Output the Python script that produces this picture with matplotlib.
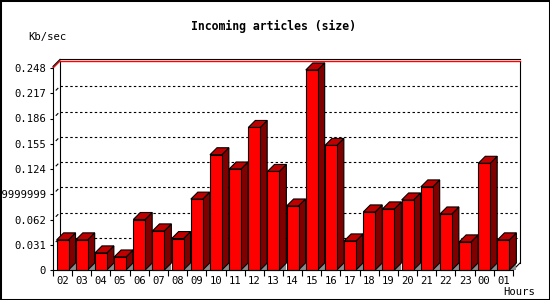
import matplotlib
matplotlib.use('Agg')
import matplotlib.pyplot as plt
import matplotlib.transforms as mtransforms
from matplotlib.patches import Polygon, Rectangle
from matplotlib.lines import Line2D

# ---------------- data ----------------
hours = ["02", "03", "04", "05", "06", "07", "08", "09", "10", "11", "12", "13",
         "14", "15", "16", "17", "18", "19", "20", "21", "22", "23", "00", "01"]
values = [0.037, 0.037, 0.021, 0.016, 0.062, 0.048, 0.0386, 0.087, 0.1415, 0.124,
          0.175, 0.121, 0.0786, 0.2456, 0.153, 0.0357, 0.0713, 0.075, 0.086, 0.102,
          0.0688, 0.0345, 0.131, 0.037]
yticks = [0, 0.031, 0.062, 0.093, 0.124, 0.155, 0.186, 0.217, 0.248]
ytick_labels = ["0", "0.031", "0.062", "0.09299999999999999", "0.124", "0.155",
                "0.186", "0.217", "0.248"]
title = "Incoming articles (size)"
ylabel = "Kb/sec"
xlabel = "Hours"

# ---------------- layout ----------------
W, H = 550, 300
FONT = "DejaVu Sans Mono"
fig = plt.figure(figsize=(W / 100, H / 100), dpi=100)
fig.patch.set_facecolor("white")
ax = fig.add_axes([53 / W, 30 / H, 460 / W, 202 / H])
n = len(hours)
ymax = yticks[-1]
ax.set_xlim(-0.5, n - 0.5)
ax.set_ylim(0, ymax)
ax.set_facecolor("none")

DEPTH = 7  # pixels
ddx = DEPTH / 460 * n
ddy = DEPTH / 202 * ymax
back = mtransforms.offset_copy(ax.transData, x=DEPTH, y=DEPTH, units='dots')
back_top = mtransforms.offset_copy(ax.transData, x=DEPTH, y=DEPTH + 1.6, units='dots')
front_top = mtransforms.offset_copy(ax.transData, x=0, y=1.6, units='dots')

lw = 0.8
# back-wall grid lines
for yv in yticks[1:-1]:
    ax.add_line(Line2D([-0.5, n - 0.5], [yv, yv], transform=back, color="black",
                       lw=lw, linestyle=(0, (2.2, 2.2)), zorder=1, clip_on=False))
    # short diagonal marks near the back wall
    ax.add_line(Line2D([-0.5 + ddx * 0.45, -0.5 + ddx * 0.7],
                       [yv + ddy * 0.45, yv + ddy * 0.7], color="black", lw=lw,
                       zorder=1, clip_on=False))

# back wall frame
ax.add_line(Line2D([-0.5, -0.5], [0, ymax], transform=back, color="black", lw=lw,
                   zorder=1, clip_on=False))
ax.add_line(Line2D([n - 0.5, n - 0.5], [0, ymax], transform=back, color="black",
                   lw=lw, zorder=1, clip_on=False))
ax.add_line(Line2D([n - 0.5, n - 0.5], [ymax, ymax], transform=back_top, color="black",
                   lw=lw, zorder=1, clip_on=False))
ax.add_line(Line2D([-0.5, n - 0.5], [ymax, ymax], transform=back_top, color="black",
                   lw=lw, zorder=1.2, clip_on=False))
ax.add_line(Line2D([-0.5, n - 0.5], [ymax, ymax], transform=back, color="red",
                   lw=1.0, zorder=1.2, clip_on=False))
# top-left diagonals
ax.add_line(Line2D([-0.5, -0.5 + ddx], [ymax, ymax + ddy], color="red", lw=1.0,
                   zorder=1.2, clip_on=False))
ax.add_line(Line2D([-0.5, -0.5 + ddx], [ymax, ymax + ddy], transform=front_top,
                   color="black", lw=lw, zorder=1.2, clip_on=False))
# bottom-right diagonal
ax.add_line(Line2D([n - 0.5, n - 0.5 + ddx], [0, ddy], color="black", lw=lw,
                   zorder=1.2, clip_on=False))

# ---------------- bars ----------------
bw = 0.62
for i, v in enumerate(values):
    x0, x1 = i - bw / 2, i + bw / 2
    z = 3 + i * 0.01
    ax.add_patch(Polygon([(x1, 0), (x1 + ddx, 0), (x1 + ddx, ddy)], closed=True,
                         facecolor="#8c8c8c", edgecolor="none", zorder=z, clip_on=False))
    ax.add_patch(Polygon([(x1, 0), (x1 + ddx, ddy), (x1 + ddx, v + ddy), (x1, v)],
                         closed=True, facecolor="#800000", edgecolor="black", lw=lw,
                         zorder=z, clip_on=False))
    ax.add_patch(Polygon([(x0, v), (x1, v), (x1 + ddx, v + ddy), (x0 + ddx, v + ddy)],
                         closed=True, facecolor="#c00000", edgecolor="black", lw=lw,
                         zorder=z, clip_on=False))
    ax.add_patch(Rectangle((x0, 0), bw, v, facecolor="#ff0000", edgecolor="black",
                           lw=lw, zorder=z + 0.001, clip_on=False))

# ---------------- axes / ticks ----------------
for s in ("top", "right"):
    ax.spines[s].set_visible(False)
for s in ("left", "bottom"):
    ax.spines[s].set_color("black")
    ax.spines[s].set_linewidth(lw)
    ax.spines[s].set_zorder(4)

ax.set_yticks(yticks)
ax.set_yticklabels(ytick_labels, fontfamily=FONT, fontsize=7.6)
ax.tick_params(axis="y", direction="out", length=2.5, width=lw, pad=2.5)

ax.set_xticks([i - 0.5 for i in range(n + 1)])
ax.set_xticklabels([])
ax.set_xticks(list(range(n)), minor=True)
ax.set_xticklabels(hours, minor=True, fontfamily=FONT, fontsize=7.6)
ax.tick_params(axis="x", which="major", direction="out", length=4, width=lw)
ax.tick_params(axis="x", which="minor", length=0, pad=4.5)

# ---------------- texts ----------------
fig.text(273.7 / W, 1 - 26.5 / H, title, ha="center", va="center", fontfamily=FONT,
         fontweight="bold", fontsize=8.3)
fig.text(47.5 / W, 1 - 37 / H, ylabel, ha="center", va="center", fontfamily=FONT,
         fontsize=7.6)
fig.text(519 / W, 1 - 292 / H, xlabel, ha="center", va="center", fontfamily=FONT,
         fontsize=7.6)

# outer frame
fig.add_artist(Rectangle((0, 0), 1, 1, transform=fig.transFigure, fill=False,
                         edgecolor="black", lw=2.2))

fig.savefig("out.png", dpi=100)
